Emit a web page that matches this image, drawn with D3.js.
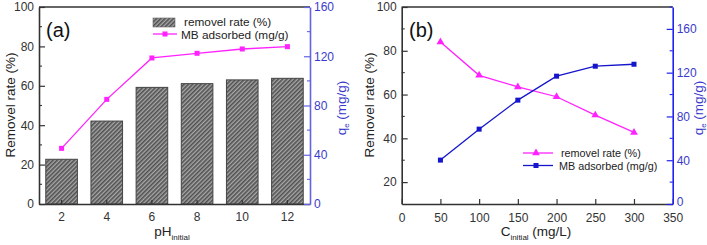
<!DOCTYPE html>
<html><head><meta charset="utf-8">
<script src="https://cdn.jsdelivr.net/npm/d3@7"></script>
<style>body{margin:0;background:#fff}svg{display:block}text{font-family:"Liberation Sans",Arial,sans-serif}</style>
</head><body>
<svg id="c" width="707" height="245"></svg>
<script>
// Panel (a) data
const phCategories = ["2","4","6","8","10","12"];
const phRemoval = [22.7, 42.1, 59.2, 61.1, 63.0, 63.8];
const phAdsorbed = [45.2, 85.0, 118.6, 122.4, 125.9, 127.8];
// Panel (b) data
const concX = [50, 100, 150, 200, 250, 300];
const concRemoval = [84.0, 68.8, 63.5, 59.0, 50.6, 42.7];
const concAdsorbed = [40.1, 68.4, 94.9, 116.8, 125.9, 127.7];
// tick labels
const aLeftTicks = [0,20,40,60,80,100];
const aRightTicks = [0,40,80,120,160];
const bLeftTicks = [20,40,60,80,100];
const bRightTicks = [0,40,80,120,160];
const bXTicks = [0,50,100,150,200,250,300,350];

const svg = d3.select("#c");
const defs = svg.append("defs");
const pat = defs.append("pattern").attr("id","hatch").attr("patternUnits","userSpaceOnUse")
  .attr("width",3).attr("height",3).attr("patternTransform","rotate(45)");
pat.append("rect").attr("width",3).attr("height",3).attr("fill","#a8a8a8");
pat.append("rect").attr("width",1.6).attr("height",3).attr("fill","#505050");

const axisCol = "#333";
const pink = "#ff22ff";
const blue = "#1515cc";

function styleAxis(g, col){
  g.selectAll("path").attr("stroke",col).attr("stroke-width",1.6);
  g.selectAll("line").attr("stroke",col).attr("stroke-width",1.2);
  g.selectAll("text").attr("font-size",12).attr("fill",col);
}
function minorTicks(g, scale, vals, x0, dir, col){
  g.selectAll(null).data(vals).enter().append("line")
    .attr("x1",x0).attr("x2",x0+dir*3).attr("y1",d=>scale(d)).attr("y2",d=>scale(d))
    .attr("stroke",col).attr("stroke-width",1.1);
}

// ---------- Panel A ----------
{
  const L=39, R=310, T=7, B=204;
  const x = d3.scaleBand().domain(phCategories).range([L,R]).paddingInner(0.3).paddingOuter(0.15);
  const y = d3.scaleLinear().domain([0,100]).range([B,T]);
  const y2 = d3.scaleLinear().domain([0,160]).range([B,T]);
  const g = svg.append("g");
  g.selectAll("rect.bar").data(phRemoval).enter().append("rect")
    .attr("x",(d,i)=>x(phCategories[i])).attr("width",x.bandwidth())
    .attr("y",d=>y(d)).attr("height",d=>B-y(d))
    .attr("fill","url(#hatch)").attr("stroke","#444").attr("stroke-width",1);
  const line = d3.line().x((d,i)=>x(phCategories[i])+x.bandwidth()/2).y(d=>y2(d));
  g.append("path").attr("d",line(phAdsorbed)).attr("fill","none").attr("stroke",pink).attr("stroke-width",1.3);
  g.selectAll("rect.pt").data(phAdsorbed).enter().append("rect")
    .attr("x",(d,i)=>x(phCategories[i])+x.bandwidth()/2-2.5).attr("y",d=>y2(d)-2.5)
    .attr("width",5).attr("height",5).attr("fill",pink);
  g.append("line").attr("x1",L).attr("x2",R).attr("y1",T).attr("y2",T).attr("stroke",axisCol).attr("stroke-width",1.6);
  const gx = g.append("g").attr("transform",`translate(0,${B})`)
    .call(d3.axisBottom(x).tickSizeInner(-4).tickSizeOuter(0).tickPadding(8));
  styleAxis(gx, axisCol);
  const gy = g.append("g").attr("transform",`translate(${L},0)`)
    .call(d3.axisLeft(y).tickValues(aLeftTicks).tickSizeInner(-6).tickSizeOuter(0).tickPadding(5));
  styleAxis(gy, axisCol);
  minorTicks(g, y, [10,30,50,70,90], L, 1, axisCol);
  const rc = "#6262e6";
  const gy2 = g.append("g").attr("transform",`translate(${R},0)`)
    .call(d3.axisRight(y2).tickValues(aRightTicks).tickSizeInner(-6).tickSizeOuter(0).tickPadding(4));
  styleAxis(gy2, rc);
  gy2.selectAll("text").attr("fill","#3a3acc");
  minorTicks(g, y2, [20,60,100,140], R, -1, rc);
  g.append("text").attr("transform",`translate(15,105) rotate(-90)`).attr("text-anchor","middle")
    .attr("font-size",13.5).attr("fill","#222").text("Removel rate (%)");
  const ql = g.append("text").attr("transform",`translate(346,108) rotate(-90)`).attr("text-anchor","middle")
    .attr("font-size",13.5).attr("fill","#3a3acc");
  ql.append("tspan").text("q");
  ql.append("tspan").attr("font-size",8).attr("dy",3).text("e");
  ql.append("tspan").attr("dy",-3).text(" (mg/g)");
  const xl = g.append("text").attr("x",172).attr("y",236).attr("text-anchor","middle").attr("font-size",13.5).attr("fill","#222");
  xl.append("tspan").text("pH");
  xl.append("tspan").attr("font-size",8).attr("dy",4).text("initial");
  g.append("text").attr("x",46).attr("y",37).attr("font-size",20).attr("fill","#111").text("(a)");
  // legend
  g.append("rect").attr("x",153).attr("y",18).attr("width",22).attr("height",9).attr("fill","url(#hatch)").attr("stroke","#666").attr("stroke-width",0.6);
  g.append("text").attr("x",184).attr("y",26).attr("font-size",11.8).attr("fill","#222").text("removel rate (%)");
  g.append("line").attr("x1",153).attr("x2",177).attr("y1",34).attr("y2",34).attr("stroke",pink).attr("stroke-width",1.3);
  g.append("rect").attr("x",162.5).attr("y",31.5).attr("width",5).attr("height",5).attr("fill",pink);
  g.append("text").attr("x",181).attr("y",38.5).attr("font-size",11.8).attr("fill","#222").text("MB adsorbed (mg/g)");
}

// ---------- Panel B ----------
{
  const L=401.7, R=672.7, T=7, B=204;
  const x = d3.scaleLinear().domain([0,350]).range([L,R]);
  const y = d3.scaleLinear().domain([10,100]).range([B,T]);
  const y2 = d3.scaleLinear().domain([0,180]).range([B,T]);
  const g = svg.append("g");
  g.append("line").attr("x1",L).attr("x2",R).attr("y1",T).attr("y2",T).attr("stroke",axisCol).attr("stroke-width",1.6);
  const gx = g.append("g").attr("transform",`translate(0,${B})`)
    .call(d3.axisBottom(x).tickValues(bXTicks).tickSizeInner(-5).tickSizeOuter(0).tickPadding(9));
  styleAxis(gx, axisCol);
  const gy = g.append("g").attr("transform",`translate(${L},0)`)
    .call(d3.axisLeft(y).tickValues(bLeftTicks).tickSizeInner(-6).tickSizeOuter(0).tickPadding(5));
  styleAxis(gy, axisCol);
  minorTicks(g, y, [30,50,70,90], L, 1, axisCol);
  const rc = "#2020f0";
  const gy2 = g.append("g").attr("transform",`translate(${R},0)`)
    .call(d3.axisRight(y2).tickValues(bRightTicks).tickSizeInner(-6).tickSizeOuter(0).tickPadding(4));
  styleAxis(gy2, rc);
  gy2.selectAll("text").attr("fill","#3a3acc");
  gy2.selectAll(".tick text").filter(d=>d===0).attr("dy","0.15em");
  minorTicks(g, y2, [20,60,100,140,180], R, -1, rc);

  const lr = d3.line().x((d,i)=>x(concX[i])).y(d=>y(d));
  g.append("path").attr("d",lr(concRemoval)).attr("fill","none").attr("stroke",pink).attr("stroke-width",1.3);
  const tri = d3.symbol().type(d3.symbolTriangle).size(26);
  g.selectAll("path.tri").data(concRemoval).enter().append("path")
    .attr("d",tri).attr("transform",(d,i)=>`translate(${x(concX[i])},${y(d)})`).attr("fill",pink);
  const la = d3.line().x((d,i)=>x(concX[i])).y(d=>y2(d));
  g.append("path").attr("d",la(concAdsorbed)).attr("fill","none").attr("stroke",blue).attr("stroke-width",1.3);
  g.selectAll("rect.sq").data(concAdsorbed).enter().append("rect")
    .attr("x",(d,i)=>x(concX[i])-2.5).attr("y",d=>y2(d)-2.5).attr("width",5).attr("height",5).attr("fill",blue);

  g.append("text").attr("transform",`translate(374,105) rotate(-90)`).attr("text-anchor","middle")
    .attr("font-size",13.5).attr("fill","#222").text("Removel rate (%)");
  const ql = g.append("text").attr("transform",`translate(703,108) rotate(-90)`).attr("text-anchor","middle")
    .attr("font-size",13.5).attr("fill","#3a3acc");
  ql.append("tspan").text("q");
  ql.append("tspan").attr("font-size",8).attr("dy",3).text("e");
  ql.append("tspan").attr("dy",-3).text(" (mg/g)");
  const xl = g.append("text").attr("x",536).attr("y",236).attr("text-anchor","middle").attr("font-size",13.5).attr("fill","#222");
  xl.append("tspan").text("C");
  xl.append("tspan").attr("font-size",8).attr("dy",4).text("initial");
  xl.append("tspan").attr("dy",-4).text(" (mg/L)");
  g.append("text").attr("x",409).attr("y",37).attr("font-size",20).attr("fill","#111").text("(b)");
  // legend
  g.append("line").attr("x1",523).attr("x2",553).attr("y1",153).attr("y2",153).attr("stroke",pink).attr("stroke-width",1.3);
  g.append("path").attr("d",tri).attr("transform","translate(536,153)").attr("fill",pink);
  g.append("text").attr("x",561).attr("y",157).attr("font-size",10.8).attr("fill","#222").text("removel rate (%)");
  g.append("line").attr("x1",523).attr("x2",553).attr("y1",165.5).attr("y2",165.5).attr("stroke",blue).attr("stroke-width",1.3);
  g.append("rect").attr("x",533.5).attr("y",163).attr("width",5).attr("height",5).attr("fill",blue);
  g.append("text").attr("x",559).attr("y",169.5).attr("font-size",10.8).attr("fill","#222").text("MB adsorbed (mg/g)");
}
</script>
</body></html>
